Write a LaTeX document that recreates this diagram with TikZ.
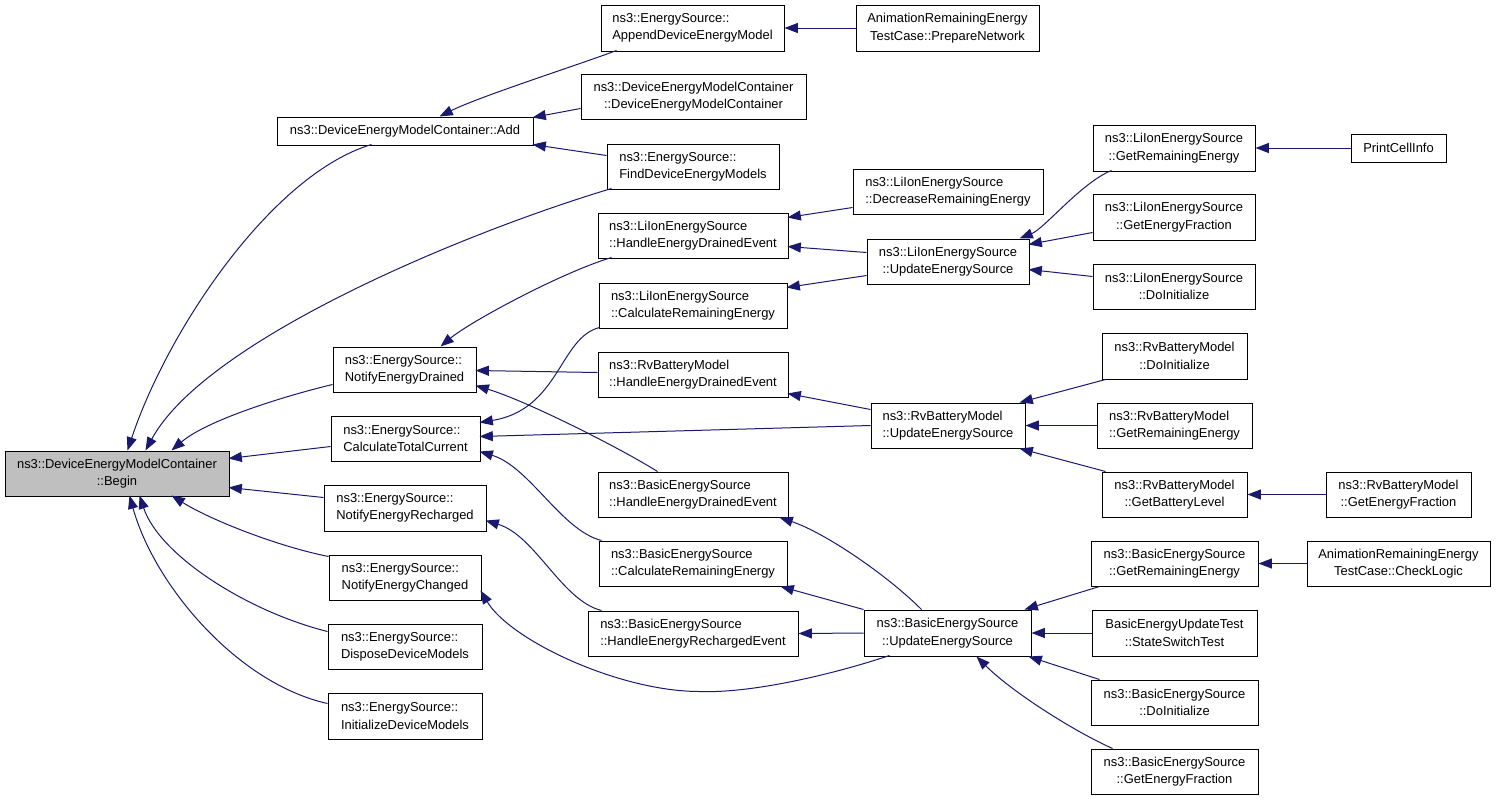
\documentclass[tikz,border=0pt]{standalone}
\usepackage{fontspec}
\setmainfont{Liberation Sans}
\usetikzlibrary{arrows.meta,calc}
\definecolor{edgecol}{HTML}{191970}
\definecolor{begincol}{HTML}{BFBFBF}
\tikzset{
  nbox/.style={draw=black, line width=0.75pt, fill=white, inner xsep=3pt, inner ysep=0pt,
    font=\fontsize{9.7pt}{13pt}\selectfont},
  sz/.style 2 args={minimum width=#1*0.75pt, minimum height=#2*0.75pt},
  link/.style={draw=edgecol, line width=0.75pt, -{Triangle[length=10pt,width=7.5pt]}},
}
\begin{document}
\begin{tikzpicture}[x=0.75pt,y=-0.75pt]
\useasboundingbox (0,0) rectangle (1496,800);
% nodes
\node[nbox,sz={224}{45},fill=begincol,align=center] (Begin) at (117,473.5) {ns3::DeviceEnergyModelContainer\\::Begin};
\node[nbox,sz={256}{28}] (Add) at (405,131) {ns3::DeviceEnergyModelContainer::Add};
\node[nbox,sz={183}{46},align=left] (Append) at (692.5,28) {ns3::EnergySource::\\AppendDeviceEnergyModel};
\node[nbox,sz={183}{46},align=center] (Prep) at (947.5,28) {AnimationRemainingEnergy\\TestCase::PrepareNetwork};
\node[nbox,sz={225}{45},align=center] (Ctor) at (693.5,96.5) {ns3::DeviceEnergyModelContainer\\::DeviceEnergyModelContainer};
\node[nbox,sz={172}{45},align=left] (Find) at (693,166.5) {ns3::EnergySource::\\FindDeviceEnergyModels};
\node[nbox,sz={190}{45},align=left] (LiHD) at (693,235.5) {ns3::LiIonEnergySource\\::HandleEnergyDrainedEvent};
\node[nbox,sz={188}{45},align=left] (LiCR) at (693,305.5) {ns3::LiIonEnergySource\\::CalculateRemainingEnergy};
\node[nbox,sz={190}{45},align=left] (LiDec) at (948,191.5) {ns3::LiIonEnergySource\\::DecreaseRemainingEnergy};
\node[nbox,sz={162}{45},align=center] (LiUp) at (948,261.5) {ns3::LiIonEnergySource\\::UpdateEnergySource};
\node[nbox,sz={162}{46},align=center] (LiGR) at (1174,148) {ns3::LiIonEnergySource\\::GetRemainingEnergy};
\node[nbox,sz={95}{28}] (Print) at (1398.5,148) {PrintCellInfo};
\node[nbox,sz={162}{46},align=center] (LiGEF) at (1174,217) {ns3::LiIonEnergySource\\::GetEnergyFraction};
\node[nbox,sz={162}{45},align=center] (LiDoI) at (1174,286.5) {ns3::LiIonEnergySource\\::DoInitialize};
\node[nbox,sz={143}{45},align=left] (NED) at (404.5,369.5) {ns3::EnergySource::\\NotifyEnergyDrained};
\node[nbox,sz={149}{45},align=left] (CTC) at (405.5,438.5) {ns3::EnergySource::\\CalculateTotalCurrent};
\node[nbox,sz={190}{45},align=left] (RvHD) at (693,374.5) {ns3::RvBatteryModel\\::HandleEnergyDrainedEvent};
\node[nbox,sz={190}{45},align=left] (BaHD) at (693,494.5) {ns3::BasicEnergySource\\::HandleEnergyDrainedEvent};
\node[nbox,sz={154}{45},align=left] (RvUp) at (948,425.5) {ns3::RvBatteryModel\\::UpdateEnergySource};
\node[nbox,sz={145}{46},align=center] (RvDoI) at (1174.5,356) {ns3::RvBatteryModel\\::DoInitialize};
\node[nbox,sz={155}{45},align=left] (RvGR) at (1174.5,425.5) {ns3::RvBatteryModel\\::GetRemainingEnergy};
\node[nbox,sz={145}{45},align=center] (RvGBL) at (1174.5,494.5) {ns3::RvBatteryModel\\::GetBatteryLevel};
\node[nbox,sz={145}{45},align=center] (RvGEF) at (1398.5,494.5) {ns3::RvBatteryModel\\::GetEnergyFraction};
\node[nbox,sz={162}{46},align=left] (NER) at (405,508) {ns3::EnergySource::\\NotifyEnergyRecharged};
\node[nbox,sz={152}{45},align=left] (NEC) at (405,577.5) {ns3::EnergySource::\\NotifyEnergyChanged};
\node[nbox,sz={154}{45},align=left] (DDM) at (405,646.5) {ns3::EnergySource::\\DisposeDeviceModels};
\node[nbox,sz={154}{46},align=left] (IDM) at (405,716) {ns3::EnergySource::\\InitializeDeviceModels};
\node[nbox,sz={188}{45},align=left] (BaCR) at (693,563.5) {ns3::BasicEnergySource\\::CalculateRemainingEnergy};
\node[nbox,sz={210}{45},align=left] (BaHR) at (693,633.5) {ns3::BasicEnergySource\\::HandleEnergyRechargedEvent};
\node[nbox,sz={167}{46},align=center] (BaUp) at (947.5,633) {ns3::BasicEnergySource\\::UpdateEnergySource};
\node[nbox,sz={167}{45},align=center] (BaGR) at (1174.5,563.5) {ns3::BasicEnergySource\\::GetRemainingEnergy};
\node[nbox,sz={183}{45},align=center] (Check) at (1398.5,563.5) {AnimationRemainingEnergy\\TestCase::CheckLogic};
\node[nbox,sz={165}{46},align=center] (SST) at (1174.5,633) {BasicEnergyUpdateTest\\::StateSwitchTest};
\node[nbox,sz={167}{45},align=center] (BaDoI) at (1174.5,702.5) {ns3::BasicEnergySource\\::DoInitialize};
\node[nbox,sz={167}{45},align=center] (BaGEF) at (1174.5,771.5) {ns3::BasicEnergySource\\::GetEnergyFraction};
% edges into Begin
\draw[link] ($(Add.north west)+(95,28)$) .. controls +(-100,30) and +(40,-120) .. ($(Begin.north west)+(123,0)$);
\draw[link] ($(Find.north west)+(5,45)$) .. controls +(-150,45) and +(60,-110) .. ($(Begin.north west)+(141,0)$);
\draw[link] ($(NED.north west)+(0,38)$) .. controls +(-50,12) and +(35,-30) .. ($(Begin.north west)+(167,0)$);
\draw[link] ($(CTC.north west)+(0,31)$) -- ($(Begin.north west)+(224,8)$);
\draw[link] ($(NER.north west)+(0,13)$) -- ($(Begin.north west)+(224,37)$);
\draw[link] ($(NEC.north west)+(0,2)$) .. controls +(-50,-10) and +(40,25) .. ($(Begin.north west)+(167,45)$);
\draw[link] ($(DDM.north west)+(0,8)$) .. controls +(-80,-20) and +(20,60) .. ($(Begin.north west)+(135,45)$);
\draw[link] ($(IDM.north west)+(0,11)$) .. controls +(-90,-20) and +(25,90) .. ($(Begin.north west)+(125,45)$);
% edges into Add
\draw[link] ($(Append.north west)+(16,46)$) .. controls +(-40,15) and +(40,-20) .. ($(Add.north west)+(163,0)$);
\draw[link] ($(Ctor.north west)+(0,35)$) -- ($(Add.north west)+(256,1)$);
\draw[link] ($(Find.north west)+(0,12)$) -- ($(Add.north west)+(256,28)$);
\draw[link] (Prep.west) -- (Append.east);
% edges into NotifyEnergyDrained / CalculateTotalCurrent / NotifyEnergyRecharged / NotifyEnergyChanged
\draw[link] ($(LiHD.north west)+(14,45)$) .. controls +(-50,15) and +(30,-25) .. ($(NED.north west)+(108,0)$);
\draw[link] ($(RvHD.north west)+(0,21)$) -- ($(NED.north west)+(143,24)$);
\draw[link] ($(BaHD.north west)+(60,0)$) .. controls +(-40,-25) and +(50,15) .. ($(NED.north west)+(143,39)$);
\draw[link] ($(LiCR.north west)+(1,45)$) .. controls +(-40,10) and +(80,-13) .. ($(CTC.north west)+(149,7)$);
\draw[link] ($(RvUp.north west)+(0,23)$) -- ($(CTC.north west)+(149,21)$);
\draw[link] ($(BaCR.north west)+(3,0)$) .. controls +(-40,-10) and +(50,15) .. ($(CTC.north west)+(149,36)$);
\draw[link] ($(BaHR.north west)+(14,0)$) .. controls +(-40,-10) and +(50,15) .. ($(NER.north west)+(162,36)$);
\coordinate (Dip) at ($(BaUp.north west)+(-164,82)$);
\draw[link] ($(BaUp.north west)+(26,46)$) .. controls +(-60,20) and +(50,2) .. (Dip) .. controls +(-80,0) and +(30,50) .. ($(NEC.north west)+(152,36)$);
% LiIon
\draw[link] ($(LiDec.north west)+(0,39)$) -- ($(LiHD.north west)+(190,5)$);
\draw[link] ($(LiUp.north west)+(0,14)$) -- ($(LiHD.north west)+(190,34)$);
\draw[link] ($(LiUp.north west)+(0,37)$) -- ($(LiCR.north west)+(188,5)$);
\draw[link] ($(LiGR.north west)+(19,46)$) .. controls +(-30,12) and +(25,-10) .. ($(LiUp.north west)+(153,0)$);
\draw[link] ($(LiGEF.north west)+(0,39)$) -- ($(LiUp.north west)+(162,6)$);
\draw[link] ($(LiDoI.north west)+(0,13)$) -- ($(LiUp.north west)+(162,31)$);
\draw[link] (Print.west) -- (LiGR.east);
% RvBattery
\draw[link] ($(RvUp.north west)+(0,7)$) -- ($(RvHD.north west)+(190,42)$);
\draw[link] ($(RvDoI.south west)+(4,0)$) -- ($(RvUp.north west)+(149,0)$);
\draw[link] (RvGR.west) -- (RvUp.east);
\draw[link] ($(RvGBL.north west)+(4,0)$) -- ($(RvUp.south west)+(149,0)$);
\draw[link] (RvGEF.west) -- (RvGBL.east);
% BasicEnergySource
\draw[link] ($(BaUp.north west)+(58,0)$) .. controls +(-35,-35) and +(45,15) .. ($(BaHD.south west)+(182,0)$);
\draw[link] (BaUp.north west) -- ($(BaCR.south east)+(-7,0)$);
\draw[link] (BaUp.west) -- (BaHR.east);
\draw[link] ($(BaGR.south west)+(9,0)$) -- ($(BaUp.north west)+(161,0)$);
\draw[link] (SST.west) -- (BaUp.east);
\draw[link] ($(BaDoI.north west)+(9,0)$) -- ($(BaUp.south east)+(-3,0)$);
\draw[link] ($(BaGEF.north west)+(22,0)$) .. controls +(-40,-18) and +(35,35) .. ($(BaUp.south west)+(113,0)$);
\draw[link] (Check.west) -- (BaGR.east);
\end{tikzpicture}
\end{document}
